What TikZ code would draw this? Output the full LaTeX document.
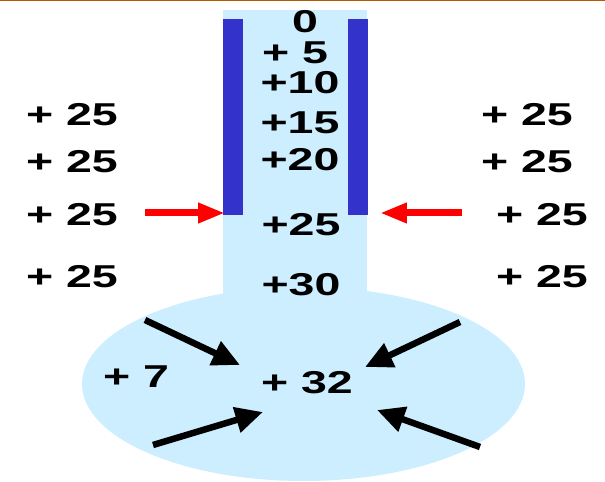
\documentclass[tikz,border=0pt]{standalone}
\usepackage{fontspec}
\newfontfamily\numfont[FakeStretch=1.47]{Liberation Sans Bold}
\usetikzlibrary{arrows.meta}
\definecolor{tubeblue}{HTML}{CCEEFF}
\definecolor{wallblue}{HTML}{3333CC}
\definecolor{topline}{HTML}{B35900}
\tikzset{
  numlabel/.style={font=\numfont\fontsize{18pt}{21pt}\selectfont, inner sep=0pt},
  wallbar/.style={fill=wallblue, inner sep=0pt, minimum width=0.4cm, minimum height=3.92cm},
  redarrow/.style={-{Triangle[length=0.54cm, width=0.38cm]}, line width=0.14cm, red},
  pusharrow/.style={-{Triangle[length=0.55cm, width=0.5cm]}, line width=0.13cm, black}
}

\begin{document}
\begin{tikzpicture}[x=0.02cm, y=-0.02cm]
  \useasboundingbox (0,0) rectangle (605,482);
  \draw[topline, line width=0.03cm] (0,0.5) -- (605,0.5);
  % tube and bulb
  \fill[tubeblue] (303.5,384) ellipse [x radius=221.5, y radius=97];
  \fill[tubeblue] (223,10) rectangle (367,300);
  \node[wallbar] (barL) at (233,117) {};
  \node[wallbar] (barR) at (357.5,117) {};

  % numbers in the tube
  \node[numlabel] (t0) at (305,22) {0};
  \node[numlabel] (t5) at (295,53) {+ 5};
  \node[numlabel] (t10) at (300,83) {+10};
  \node[numlabel] (t15) at (300,123) {+15};
  \node[numlabel] (t20) at (300,160) {+20};
  \node[numlabel] (t25) at (301,225) {+25};
  \node[numlabel] (t30) at (301,285) {+30};
  \node[numlabel] (bulb) at (307,383) {+ 32};
  \node[numlabel] (seven) at (136,377) {+ 7};

  % outside pressure
  \node[numlabel] (lhs1) at (72,115) {+ 25};
  \node[numlabel] (lhs2) at (72,162) {+ 25};
  \node[numlabel] (lhs3) at (72,215) {+ 25};
  \node[numlabel] (lhs4) at (72,277) {+ 25};
  \node[numlabel] (rhs1) at (527,115) {+ 25};
  \node[numlabel] (rhs2) at (527,162) {+ 25};
  \node[numlabel] (rhs3) at (542,215) {+ 25};
  \node[numlabel] (rhs4) at (542,277) {+ 25};

  % arrows
  \coordinate (redLtail) at (145,213);
  \coordinate (redLtip) at (225,213);
  \coordinate (redRtail) at (462,213);
  \coordinate (redRtip) at (380,213);
  \draw[redarrow] (redLtail) -- (redLtip);
  \draw[redarrow] (redRtail) -- (redRtip);

  \coordinate (ulTail) at (145,320);
  \coordinate (ulTip) at (240,365);
  \coordinate (urTail) at (460,322);
  \coordinate (urTip) at (365,367);
  \coordinate (llTail) at (153,445);
  \coordinate (llTip) at (263,412);
  \coordinate (lrTail) at (480,447);
  \coordinate (lrTip) at (377,410);
  \draw[pusharrow] (ulTail) -- (ulTip);
  \draw[pusharrow] (urTail) -- (urTip);
  \draw[pusharrow] (llTail) -- (llTip);
  \draw[pusharrow] (lrTail) -- (lrTip);
\end{tikzpicture}
\end{document}
